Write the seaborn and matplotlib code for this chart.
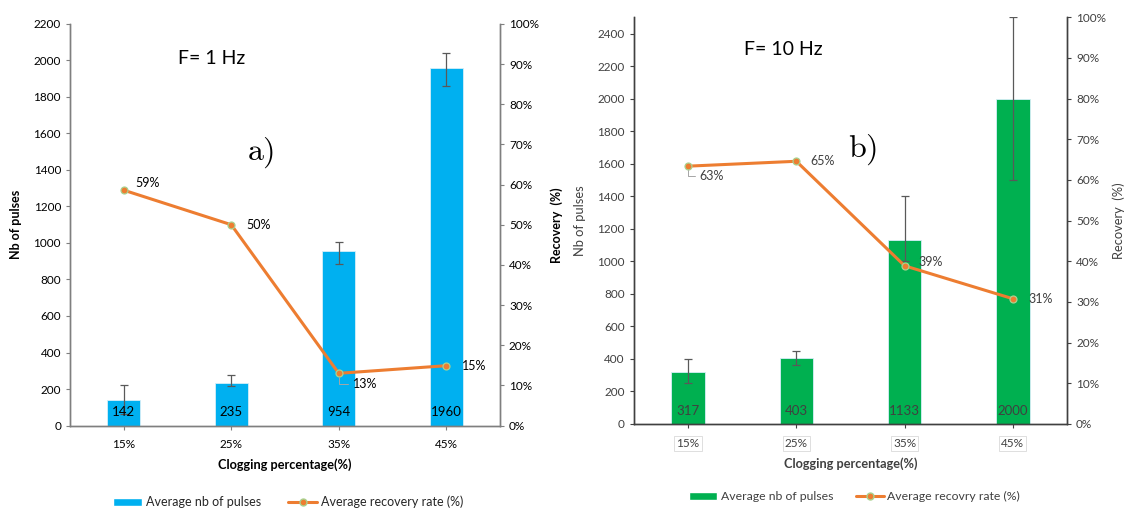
import matplotlib
matplotlib.use("Agg")
import matplotlib.pyplot as plt
from matplotlib.ticker import PercentFormatter, MultipleLocator
from matplotlib.patches import Patch
from matplotlib.lines import Line2D
import seaborn as sns

clogging = ['15%', '25%', '35%', '45%']

# panel a) F = 1 Hz
pulses_a = [142, 235, 954, 1960]
err_low_a = [80, 21, 71, 98]
err_up_a = [80, 42, 50, 83]
recovery_a = [0.586, 0.50, 0.13, 0.149]

# panel b) F = 10 Hz
pulses_b = [317, 403, 1133, 2000]
err_low_b = [67, 43, 133, 500]
err_up_b = [84, 47, 267, 500]
recovery_b = [0.634, 0.646, 0.389, 0.308]

BLUE = '#00B0F0'
GREEN = '#00B050'
ORANGE = '#ED7D31'
MEDGE = '#A9D18E'

sns.set_theme(style="white")
plt.rcParams['font.family'] = ['Lato', 'DejaVu Sans']
plt.rcParams['mathtext.fontset'] = 'cm'


def draw_panel(ax, pulses, err_low, err_up, recovery, bar_color, ymax, text_color,
               spine_color, bold_ylabels, boxed_ticks, label_offsets, leaders,
               count_y, ylab_size, right_x):
    sns.barplot(x=clogging, y=pulses, color=bar_color, width=0.31, ax=ax,
                edgecolor='#d6eef8', linewidth=0.6, saturation=1)
    xs = [p.get_x() + p.get_width() / 2 for p in ax.patches]
    ax.errorbar(xs, pulses, yerr=[err_low, err_up], fmt='none', ecolor='#595959',
                elinewidth=0.9, capsize=3, capthick=0.9, zorder=3)
    for x, v in zip(xs, pulses):
        ax.text(x, count_y, f"{v}", ha='center', va='center', fontsize=9.5,
                color=text_color, zorder=4)

    ax2 = ax.twinx()
    sns.pointplot(x=clogging, y=recovery, ax=ax2, color=ORANGE, markers='o',
                  linestyles='-', errorbar=None, markersize=5, linewidth=2.2,
                  markeredgecolor=MEDGE, markeredgewidth=0.9)
    for i, (r, off, lead) in enumerate(zip(recovery, label_offsets, leaders)):
        arrow = None
        if lead:
            arrow = dict(arrowstyle='-', color='#a6a6a6', lw=0.7, shrinkA=1, shrinkB=3,
                         connectionstyle='angle,angleA=0,angleB=90,rad=0')
        ax2.annotate(f"{r * 100:.0f}%", (i, r), xytext=off, textcoords='offset points',
                     fontsize=9, color=text_color, va='center', ha='left',
                     arrowprops=arrow)

    ax.set_xlim(-0.5, 3.5)
    ax.set_ylim(0, ymax)
    ax.yaxis.set_major_locator(MultipleLocator(200))
    ax2.set_ylim(0, 1)
    ax2.yaxis.set_major_locator(MultipleLocator(0.1))
    ax2.yaxis.set_major_formatter(PercentFormatter(1.0, decimals=0))

    ax.spines['top'].set_visible(False)
    ax2.spines['top'].set_visible(False)
    for sp in ['left', 'bottom', 'right']:
        ax.spines[sp].set_color(spine_color)
        ax2.spines[sp].set_color(spine_color)
        ax2.spines[sp].set_linewidth(1.0)
        ax.spines[sp].set_linewidth(1.0)

    ax.tick_params(axis='both', which='both', direction='out', length=3, width=0.8,
                   colors=spine_color, labelcolor=text_color, labelsize=8.5, left=True,
                   bottom=True)
    ax2.tick_params(axis='y', direction='out', length=3, width=0.8, colors=spine_color,
                    labelcolor=text_color, labelsize=8.5, right=True)
    ax.tick_params(axis='x', pad=7)
    if boxed_ticks:
        for t in ax.get_xticklabels():
            t.set_bbox(dict(facecolor='none', edgecolor='#d9d9d9', linewidth=0.6, pad=1.5))

    weight = 'bold' if bold_ylabels else 'normal'
    ax.set_ylabel('Nb of pulses', fontsize=ylab_size, fontweight=weight, color=text_color,
                  labelpad=8)
    ax2.set_ylabel('Recovery  (%)', fontsize=ylab_size, fontweight=weight,
                   color=text_color)
    ax2.yaxis.set_label_coords(right_x, 0.5)
    ax.set_xlabel('Clogging percentage(%)', fontsize=9.2, fontweight='bold',
                  color=text_color, labelpad=6)
    ax.grid(False)
    ax2.grid(False)
    return ax2


fig = plt.figure(figsize=(11.26, 5.09), dpi=100)
ax_a = fig.add_axes([0.0622, 0.164, 0.3818, 0.789])
ax_b = fig.add_axes([0.563, 0.167, 0.3846, 0.799])

draw_panel(ax_a, pulses_a, err_low_a, err_up_a, recovery_a, BLUE, 2200, '#000000',
           '#7f7f7f', True, False, [(8, 5), (11, 0), (10, -8), (11, 0)],
           [False, False, True, False], 75, 9, 1.118)
draw_panel(ax_b, pulses_b, err_low_b, err_up_b, recovery_b, GREEN, 2500, '#404040',
           '#404040', False, True, [(8, -7), (10, 0), (10, 3), (11, 0)],
           [True, False, False, False], 80, 9.3, 1.104)

ax_a.text(0.33, 0.915, 'F= 1 Hz', transform=ax_a.transAxes, fontsize=14,
          ha='center', va='center', color='black')
ax_a.text(0.443, 0.68, r'$\mathrm{a)}$', transform=ax_a.transAxes, fontsize=23,
          ha='center', va='center', color='black')
ax_b.text(0.345, 0.92, 'F= 10 Hz', transform=ax_b.transAxes, fontsize=14,
          ha='center', va='center', color='black')
ax_b.text(0.527, 0.675, r'$\mathrm{b)}$', transform=ax_b.transAxes, fontsize=23,
          ha='center', va='center', color='black')

handles_a = [Patch(facecolor=BLUE, label='Average nb of pulses'),
             Line2D([], [], color=ORANGE, lw=2.2, marker='o', markersize=5,
                    markeredgecolor=MEDGE, label='Average recovery rate (%)')]
handles_b = [Patch(facecolor=GREEN, label='Average nb of pulses'),
             Line2D([], [], color=ORANGE, lw=2.2, marker='o', markersize=5,
                    markeredgecolor=MEDGE, label='Average recovry rate (%)')]
fig.legend(handles=handles_a, loc='center', bbox_to_anchor=(0.256, 0.014), ncol=2,
           frameon=False, fontsize=9, handlelength=2.3, handleheight=0.6,
           columnspacing=2.2, handletextpad=0.3)
leg_b = fig.legend(handles=handles_b, loc='center', bbox_to_anchor=(0.759, 0.024), ncol=2,
                   frameon=False, fontsize=8.8, handlelength=2.3, handleheight=0.6,
                   columnspacing=1.8, handletextpad=0.3)
for t in leg_b.get_texts():
    t.set_color('#404040')

fig.savefig('out.png', dpi=100)
